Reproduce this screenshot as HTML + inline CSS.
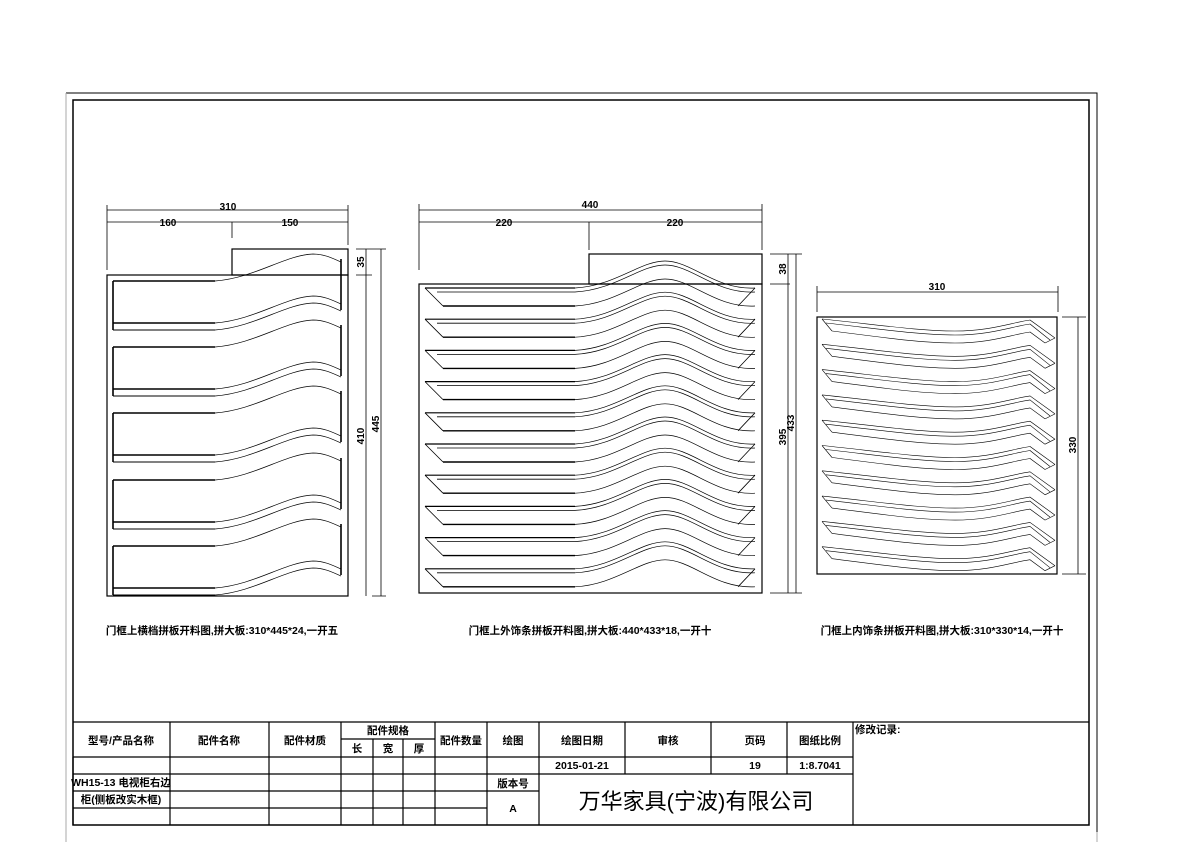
<!DOCTYPE html>
<html><head><meta charset="utf-8">
<style>
body{margin:0;background:#fff;width:1191px;height:842px;overflow:hidden;}
svg{display:block}
text{font-family:"Liberation Sans","Noto Sans CJK SC",sans-serif;font-weight:bold;fill:#000}
text.n{font-weight:normal}
</style></head><body>
<svg id="s" width="1191" height="842" viewBox="0 0 1191 842" xmlns="http://www.w3.org/2000/svg">
<g fill="none" stroke="#000">
<path d="M66,93 H1097 V832" stroke="#000" stroke-width="1"/>
<path d="M66,93 V842 M1097,832 V842" stroke="#aaa" stroke-width="1"/>
<rect x="73" y="100" width="1016" height="725" stroke-width="1.5"/>
<g stroke-width="0.8">
<path d="M107,205 V218 M348,205 V218 M107,210 H348 M107,222 H348 M232,222 V238 M107,218 V270 M348,218 V245"/>
<path d="M356,249 H386 M356,275 H372 M372,596 H386 M366,249 V275 M366,275 V596 M381,249 V596"/>
</g>
<rect x="232" y="249" width="116" height="26" stroke-width="1.2"/>
<rect x="107" y="275" width="241" height="321" stroke-width="1.2"/>
<g id="leftp"></g>
<g stroke-width="0.8">
<path d="M419,204 V270 M762,204 V250 M419,210 H762 M419,222 H762 M589,222 V250"/>
<path d="M770,254 H802 M770,284 H790 M770,593 H802 M788,254 V284 M788,284 V593 M796,254 V593"/>
</g>
<rect x="589" y="254" width="173" height="30" stroke-width="1.2"/>
<rect x="419" y="284" width="343" height="309" stroke-width="1.2"/>
<g id="midp"></g>
<g stroke-width="0.8">
<path d="M817,286 V312 M1058,286 V312 M817,292 H1058"/>
<path d="M1062,317 H1086 M1062,574 H1086 M1078,317 V574"/>
</g>
<rect x="817" y="317" width="240" height="257" stroke-width="1.2"/>
<g id="rightp"></g>
<g stroke-width="1.2">
<path d="M73,722 H1089 M73,757 H853 M73,774 H853 M73,791 H539 M73,808 H487 M341,739 H435"/>
<path d="M170,722 V825 M269,722 V825 M341,722 V825 M435,722 V825 M487,722 V825 M539,722 V825 M373,739 V825 M403,739 V825 M625,722 V774 M711,722 V774 M787,722 V774 M853,722 V825 M170,757 V825"/>
</g>
<path d="M73,757 V825" stroke-width="1.2"/>
</g>
<g font-size="11">
<text x="228" y="210" text-anchor="middle" font-size="10">310</text>
<text x="168" y="226" text-anchor="middle" font-size="10">160</text>
<text x="290" y="226" text-anchor="middle" font-size="10">150</text>
<text transform="translate(364,262) rotate(-90)" text-anchor="middle" font-size="10">35</text>
<text transform="translate(364,436) rotate(-90)" text-anchor="middle" font-size="10">410</text>
<text transform="translate(379,424) rotate(-90)" text-anchor="middle" font-size="10">445</text>
<text x="590" y="208" text-anchor="middle" font-size="10">440</text>
<text x="504" y="226" text-anchor="middle" font-size="10">220</text>
<text x="675" y="226" text-anchor="middle" font-size="10">220</text>
<text transform="translate(786,269) rotate(-90)" text-anchor="middle" font-size="10">38</text>
<text transform="translate(786,437) rotate(-90)" text-anchor="middle" font-size="10">395</text>
<text transform="translate(794,423) rotate(-90)" text-anchor="middle" font-size="10">433</text>
<text x="937" y="290" text-anchor="middle" font-size="10">310</text>
<text transform="translate(1076,445) rotate(-90)" text-anchor="middle" font-size="10">330</text>
<text x="222" y="634" text-anchor="middle" font-size="10.5">门框上横档拼板开料图,拼大板:310*445*24,一开五</text>
<text x="590" y="634" text-anchor="middle" font-size="10.5">门框上外饰条拼板开料图,拼大板:440*433*18,一开十</text>
<text x="942" y="634" text-anchor="middle" font-size="10.5">门框上内饰条拼板开料图,拼大板:310*330*14,一开十</text>
<g font-size="10.5" text-anchor="middle">
<text x="121" y="744">型号/产品名称</text>
<text x="219" y="744">配件名称</text>
<text x="305" y="744">配件材质</text>
<text x="388" y="734">配件规格</text>
<text x="357" y="752">长</text>
<text x="388" y="752">宽</text>
<text x="419" y="752">厚</text>
<text x="461" y="744">配件数量</text>
<text x="513" y="744">绘图</text>
<text x="582" y="744">绘图日期</text>
<text x="668" y="744">审核</text>
<text x="755" y="744">页码</text>
<text x="820" y="744">图纸比例</text>
<text x="582" y="769">2015-01-21</text>
<text x="755" y="769">19</text>
<text x="820" y="769">1:8.7041</text>
<text x="513" y="787">版本号</text>
<text x="513" y="812">A</text>
<text x="121" y="786">WH15-13 电视柜右边</text>
<text x="121" y="803">柜(侧板改实木框)</text>
</g>
<text x="855" y="733" font-size="10.5">修改记录:</text>
<text class="n" x="696" y="809" text-anchor="middle" font-size="22">万华家具(宁波)有限公司</text>
</g>
</svg>
<script>
var NS="http://www.w3.org/2000/svg";
function p(g,d,w){var e=document.createElementNS(NS,"path");e.setAttribute("d",d);e.setAttribute("fill","none");e.setAttribute("stroke","#000");e.setAttribute("stroke-width",w||0.7);document.getElementById(g).appendChild(e);}
function wl(y){return "M215,"+y+" C255,"+(y-3)+" 285,"+(y-26)+" 313,"+(y-27)+" C325,"+(y-27)+" 334,"+(y-22)+" 341,"+(y-19);}
[281,347,413,480,546].forEach(function(y){
 p("leftp","M113,"+y+" H215",1.6);
 p("leftp","M113,"+y+" V"+(y+49),1.6);
 p("leftp","M113,"+(y+42)+" H215",1.6);
 p("leftp","M113,"+(y+49)+" H215",1);
 p("leftp",wl(y));p("leftp",wl(y+42));p("leftp",wl(y+49));
 p("leftp","M341,"+(y-22)+" V"+(y+29),1.6);
});
function mw(y){return "M575,"+y+" C615,"+(y-2)+" 640,"+(y-27)+" 665,"+(y-27)+" C692,"+(y-27)+" 715,"+(y+2)+" 755,"+y;}
for(var i=0;i<10;i++){var y=288+i*31.2;
 p("midp","M425,"+y+" H575",1.2);
 p("midp","M437,"+(y+4)+" H575",0.8);
 p("midp","M443,"+(y+18)+" H575",1.4);
 p("midp","M425,"+y+" L443,"+(y+18),0.8);
 p("midp",mw(y));p("midp",mw(y+4));p("midp",mw(y+18));
 p("midp","M755,"+y+" L738,"+(y+18),0.8);
}
function rw(y,x0){return "M"+x0+","+y+" C880,"+(y+6)+" 920,"+(y+12)+" 955,"+(y+12)+" C990,"+(y+12)+" 1010,"+(y+4)+" 1030,"+(y+1);}
for(var j=0;j<10;j++){var y=319+j*25.3;
 p("rightp",rw(y,822)+" L1055,"+(y+19),0.6);
 p("rightp",rw(y+4,826)+" L1050,"+(y+21),0.6);
 p("rightp",rw(y+12,832)+" L1045,"+(y+24),0.6);
 p("rightp","M822,"+y+" L832,"+(y+12),0.6);
 p("rightp","M1055,"+(y+19)+" L1045,"+(y+24),0.6);
}
</script>
</body></html>
